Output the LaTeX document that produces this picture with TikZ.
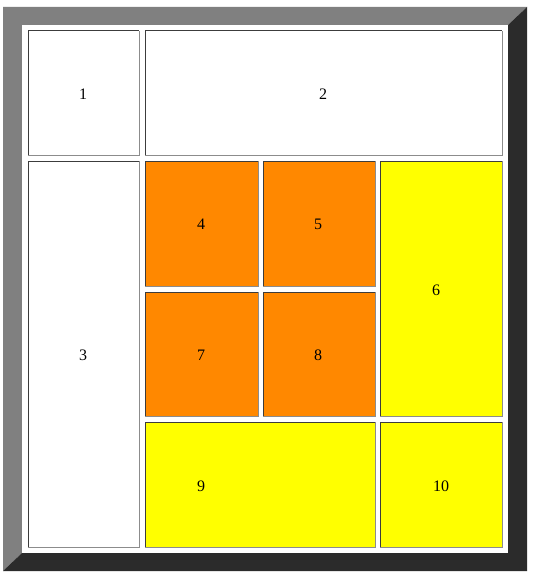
\documentclass[tikz,border=0pt]{standalone}
\usepackage{fontspec}
\setmainfont{Liberation Serif}
\definecolor{bevlight}{HTML}{808080}
\definecolor{bevdark}{HTML}{2B2B2B}
\definecolor{celldk}{HTML}{3C3C3C}
\definecolor{celllt}{HTML}{8C8C8C}
\definecolor{cellor}{HTML}{FF8800}
\definecolor{cellye}{HTML}{FFFF00}
\tikzset{
  bevtop/.style={fill=bevlight, draw=none},
  bevbot/.style={fill=bevdark, draw=none},
  dk/.style={draw=celldk, line width=0.75pt},
  lt/.style={draw=celllt, line width=0.75pt},
  lab/.style={font=\fontsize{12}{14}\selectfont, inner sep=0pt}
}
\newcommand{\cellbox}[5]{%
  \fill[#5] (#1,#2) rectangle (#3,#4);
  \draw[dk] (#1,#4) |- (#3,#2);
  \draw[lt] (#1,#4) -| (#3,#2);}
\begin{document}
\begin{tikzpicture}[x=0.75pt, y=-0.75pt]
		\useasboundingbox[fill=white] (0,0) rectangle (535,581);
		% frame
		\path[bevtop] (3,7) -- (527,7) -- (508,25) -- (22,25) -- (22,553) -- (3,571) -- cycle;
		\path[bevbot] (527,7) -- (527,571) -- (3,571) -- (22,553) -- (508,553) -- (508,25) -- cycle;
		\fill[white] (22,25) rectangle (508,553);
		% cells
		\foreach \xa/\ya/\xb/\yb/\col in {
			28/31/139/155/white, 145/31/502/155/white, 28/161/139/547/white,
			145/161/258/286/cellor, 263/161/375/286/cellor, 380/161/502/416/cellye,
			145/292/258/416/cellor, 263/292/375/416/cellor,
			145/422/375/547/cellye, 380/422/502/547/cellye}
			\cellbox{\xa}{\ya}{\xb}{\yb}{\col};
		% labels
		\node[lab] (t1) at (83,94) {1};
		\node[lab] (t2) at (323,94) {2};
		\node[lab] (t3) at (83,355) {3};
		\node[lab] (t4) at (201,224) {4};
		\node[lab] (t5) at (318,224) {5};
		\node[lab] (t6) at (436,290) {6};
		\node[lab] (t7) at (201,355) {7};
		\node[lab] (t8) at (318,355) {8};
		\node[lab] (t9) at (201,486) {9};
		\node[lab] (t10) at (441,486) {10};
	\end{tikzpicture}
\end{document}
